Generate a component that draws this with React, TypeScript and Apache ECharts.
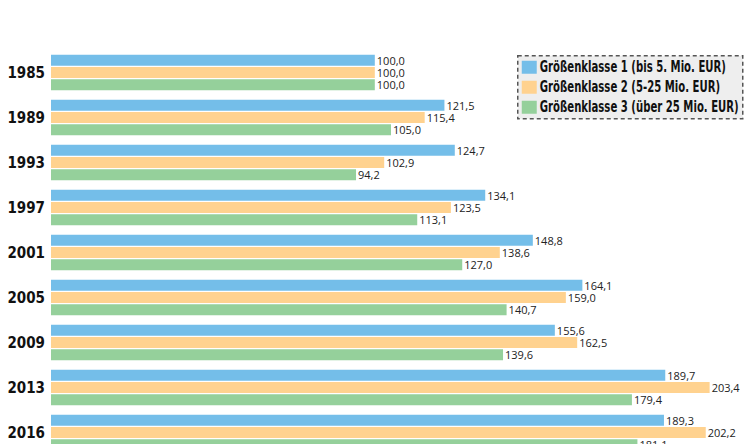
import React, { useEffect, useRef } from "react";
import * as echarts from "echarts";

const years = ["1985", "1989", "1993", "1997", "2001", "2005", "2009", "2013", "2016"];
const klasse1 = [100.0, 121.5, 124.7, 134.1, 148.8, 164.1, 155.6, 189.7, 189.3];
const klasse2 = [100.0, 115.4, 102.9, 123.5, 138.6, 159.0, 162.5, 203.4, 202.2];
const klasse3 = [100.0, 105.0, 94.2, 113.1, 127.0, 140.7, 139.6, 179.4, 181.1];
const seriesNames = [
  "Größenklasse 1 (bis 5. Mio. EUR)",
  "Größenklasse 2 (5-25 Mio. EUR)",
  "Größenklasse 3 (über 25 Mio. EUR)",
];
const colors = ["#74BEE9", "#FFD28F", "#95D09B"];

const condensed = "'DejaVu Sans Condensed', 'DejaVu Sans', sans-serif";

export default function App() {
  const ref = useRef<HTMLDivElement>(null);
  useEffect(() => {
    document.body.style.margin = "0";
    if (!ref.current) return;
    const chart = echarts.init(ref.current, null, { renderer: "svg" });
    const data = [klasse1, klasse2, klasse3];

    const legendChildren: any[] = [
      {
        type: "rect",
        shape: { x: 0, y: 0, width: 225, height: 63 },
        style: { fill: "#eeeeee", stroke: "#555", lineWidth: 1.5, lineDash: [4, 3] },
      },
    ];
    seriesNames.forEach((name, i) => {
      legendChildren.push({
        type: "rect",
        shape: { x: 4, y: 5 + i * 20, width: 15, height: 13 },
        style: { fill: colors[i] },
      });
      legendChildren.push({
        type: "text",
        x: 22,
        y: 11.5 + i * 20,
        scaleX: 0.75,
        style: {
          text: name,
          fontFamily: condensed,
          fontWeight: "bold",
          fontSize: 15,
          fill: "#111",
          verticalAlign: "middle",
          align: "left",
        },
      });
    });

    chart.setOption({
      animation: false,
      grid: { left: 51, top: 50, width: 680, height: 405, containLabel: false },
      xAxis: {
        type: "value",
        min: 0,
        max: 210,
        show: false,
      },
      yAxis: {
        type: "category",
        data: years,
        inverse: true,
        axisLine: { show: false },
        axisTick: { show: false },
        axisLabel: {
          margin: 6,
          fontFamily: condensed,
          fontWeight: "bold",
          fontSize: 15,
          color: "#111",
        },
      },
      graphic: [
        {
          type: "group",
          left: 517,
          top: 55,
          children: legendChildren,
          z: 10,
        },
      ],
      series: data.map((d, i) => ({
        type: "bar",
        name: seriesNames[i],
        data: d,
        barWidth: 11,
        barGap: "12%",
        itemStyle: { color: colors[i] },
        label: {
          show: true,
          position: "right",
          distance: 2,
          fontFamily: "'Open Sans', sans-serif",
          fontSize: 11,
          lineHeight: 11,
          color: "#222",
          formatter: (p: any) => Number(p.value).toFixed(1).replace(".", ","),
        },
        z: 2,
      })),
    });
    return () => chart.dispose();
  }, []);
  return (
    <div style={{ width: 746, height: 444, overflow: "hidden", position: "relative" }}>
      <div ref={ref} style={{ width: 746, height: 480 }} />
    </div>
  );
}
